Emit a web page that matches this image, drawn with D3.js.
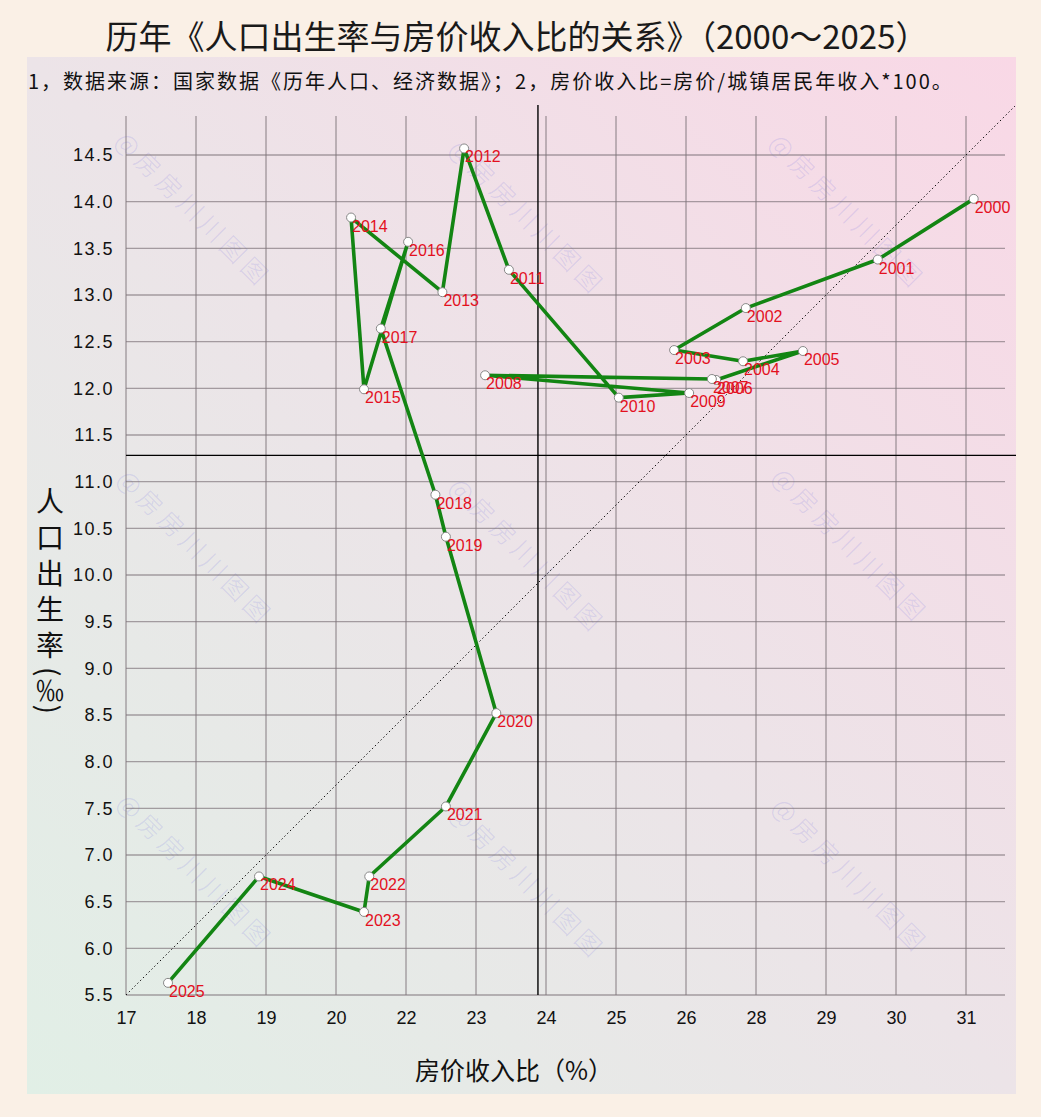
<!DOCTYPE html>
<html>
<head>
<meta charset="utf-8">
<script src="https://cdn.jsdelivr.net/npm/d3@7"></script>
<style>
  html, body { margin: 0; padding: 0; background: #FAF0E6; }
  svg { display: block; }
</style>
</head>
<body>
<svg id="chart" width="1041" height="1117"></svg>
<script>
// ---------------- data ----------------
const years = [2000, 2001, 2002, 2003, 2004, 2005, 2006, 2007, 2008, 2009, 2010, 2011, 2012,
               2013, 2014, 2015, 2016, 2017, 2018, 2019, 2020, 2021, 2022, 2023, 2024, 2025];
// 房价收入比 (%)
const priceIncomeRatio = [31.11, 29.74, 27.71, 25.83, 27.63, 28.67, 26.86, 26.74, 23.13, 26.09, 25.04, 23.47, 22.83,
                          22.52, 20.43, 20.80, 22.03, 21.28, 22.42, 22.57, 23.29, 22.57, 20.95, 20.80, 18.90, 17.60];
// 人口出生率 (‰)
const birthRate = [14.03, 13.38, 12.86, 12.41, 12.29, 12.40, 12.09, 12.10, 12.14, 11.95, 11.90, 13.27, 14.57,
                   13.03, 13.83, 11.99, 13.57, 12.64, 10.86, 10.41, 8.52, 7.52, 6.77, 6.39, 6.77, 5.63];
const xTickValues = [17, 18, 19, 20, 22, 23, 24, 25, 26, 28, 29, 30, 31];
const yTickValues = [5.5, 6.0, 6.5, 7.0, 7.5, 8.0, 8.5, 9.0, 9.5, 10.0, 10.5, 11.0, 11.5, 12.0, 12.5, 13.0, 13.5, 14.0, 14.5];

const titleText = "历年《人口出生率与房价收入比的关系》（2000～2025）";
const noteText = "1，数据来源：国家数据《历年人口、经济数据》；2，房价收入比=房价/城镇居民年收入*100。";
const xTitle = "房价收入比（%）";
const yTitleMain = "人口出生率";
const yTitleUnit = "(‰)";
const watermarkText = "@房房川川图图";

// ---------------- layout ----------------
const W = 1041, H = 1117;
const plotLeft = 126, plotRight = 1005, plotTop = 116, plotBottom = 995;
const xStep = 70;
const cjk = "'Noto Sans CJK SC', 'Noto Sans', sans-serif";
const latin = "'Liberation Sans', Arial, sans-serif";

const svg = d3.select("#chart");
const defs = svg.append("defs");

const grad = defs.append("linearGradient").attr("id", "panelBg")
  .attr("x1", 0).attr("y1", 1).attr("x2", 1).attr("y2", 0);
grad.append("stop").attr("offset", 0).attr("stop-color", "#E1EFE6");
grad.append("stop").attr("offset", 0.5).attr("stop-color", "#ECE4E8");
grad.append("stop").attr("offset", 1).attr("stop-color", "#F9D8E6");

svg.append("rect").attr("width", W).attr("height", H).attr("fill", "#FAF0E6");
svg.append("rect").attr("x", 27).attr("y", 57).attr("width", 989).attr("height", 1037)
  .attr("fill", "url(#panelBg)");

// scales (x axis: evenly spaced ticks, piecewise linear between them)
const x = d3.scaleLinear()
  .domain(xTickValues)
  .range(xTickValues.map((d, i) => plotLeft + i * xStep));
const y = d3.scaleLinear().domain([5.5, 14.5]).range([plotBottom, 155]);

// watermarks
const wmPositions = [[118, 138], [452, 146], [772, 140], [120, 476], [452, 484], [775, 474], [120, 800], [452, 810], [775, 804]];
svg.append("g").selectAll("text").data(wmPositions).join("text")
  .attr("transform", d => `translate(${d[0]},${d[1]}) rotate(45)`)
  .attr("font-family", cjk).attr("font-size", 25).attr("font-weight", 300).attr("letter-spacing", 5)
  .attr("fill", "rgba(110,110,225,0.18)")
  .attr("dominant-baseline", "middle")
  .text(watermarkText);

// grid
const grid = svg.append("g");
grid.selectAll("line.v").data(xTickValues).join("line")
  .attr("x1", d => x(d)).attr("x2", d => x(d))
  .attr("y1", plotTop).attr("y2", plotBottom)
  .attr("stroke", "#7d7278").attr("stroke-opacity", 0.65).attr("stroke-width", 1.4);
grid.selectAll("line.h").data(yTickValues).join("line")
  .attr("x1", plotLeft).attr("x2", plotRight)
  .attr("y1", d => y(d)).attr("y2", d => y(d))
  .attr("stroke", "#7d7278").attr("stroke-opacity", 0.65).attr("stroke-width", 1.4);

// axes (labels only)
const xAxis = d3.axisBottom(x).tickValues(xTickValues).tickFormat(d3.format("d")).tickSize(0).tickPadding(16);
const gx = svg.append("g").attr("transform", `translate(0,${plotBottom})`).call(xAxis);
gx.select(".domain").remove();
gx.selectAll("text").attr("font-family", latin).attr("font-size", 18).attr("fill", "#111");

const yAxis = d3.axisLeft(y).tickValues(yTickValues).tickFormat(d3.format(".1f")).tickSize(0).tickPadding(12);
const gy = svg.append("g").attr("transform", `translate(${plotLeft},0)`).call(yAxis);
gy.select(".domain").remove();
gy.selectAll("text").attr("font-family", latin).attr("font-size", 18).attr("letter-spacing", 1.5).attr("fill", "#111");

// diagonal dotted reference line (45 degrees from the lower-left corner)
const x0 = x(17), y0 = y(5.5);
svg.append("line")
  .attr("x1", x0).attr("y1", y0).attr("x2", x0 + 889).attr("y2", y0 - 889)
  .attr("stroke", "#111").attr("stroke-width", 1).attr("stroke-dasharray", "1.5,2.5");

// mean lines
const meanX = d3.mean(priceIncomeRatio), meanY = d3.mean(birthRate);
svg.append("line").attr("x1", x(meanX)).attr("x2", x(meanX)).attr("y1", 105).attr("y2", plotBottom)
  .attr("stroke", "#000").attr("stroke-width", 1.4);
svg.append("line").attr("x1", plotLeft).attr("x2", 1016).attr("y1", y(meanY)).attr("y2", y(meanY))
  .attr("stroke", "#000").attr("stroke-width", 1.4);

// data
const data = years.map((yr, i) => ({ year: yr, r: priceIncomeRatio[i], b: birthRate[i] }));

svg.append("path").datum(data)
  .attr("d", d3.line().x(d => x(d.r)).y(d => y(d.b)))
  .attr("fill", "none").attr("stroke", "#138513").attr("stroke-width", 3.6)
  .attr("stroke-linejoin", "round");

svg.append("g").selectAll("circle").data(data).join("circle")
  .attr("cx", d => x(d.r)).attr("cy", d => y(d.b)).attr("r", 4.5)
  .attr("fill", "#fff").attr("stroke", "#888").attr("stroke-width", 1);

svg.append("g").selectAll("text").data(data).join("text")
  .attr("x", d => x(d.r) + 1).attr("y", d => y(d.b) + 14)
  .attr("font-family", latin).attr("font-size", 16).attr("fill", "#E3101E")
  .text(d => d.year);

// titles
svg.append("text").attr("x", 517).attr("y", 49).attr("text-anchor", "middle")
  .attr("font-family", cjk).attr("font-size", 33).attr("fill", "#1a1a1a").text(titleText);
svg.append("text").attr("x", 28).attr("y", 89)
  .attr("font-family", cjk).attr("font-size", 20).attr("letter-spacing", 2).attr("fill", "#111").text(noteText);
svg.append("text").attr("x", 514).attr("y", 1080).attr("text-anchor", "middle")
  .attr("font-family", cjk).attr("font-size", 25).attr("fill", "#111").text(xTitle);

const yt = svg.append("text").attr("x", 50).attr("y", 487)
  .attr("font-family", cjk).attr("font-size", 28).attr("fill", "#111")
  .style("writing-mode", "vertical-rl");
yt.append("tspan").attr("letter-spacing", 8).text(yTitleMain);
yt.append("tspan").text(yTitleUnit);
</script>
</body>
</html>
